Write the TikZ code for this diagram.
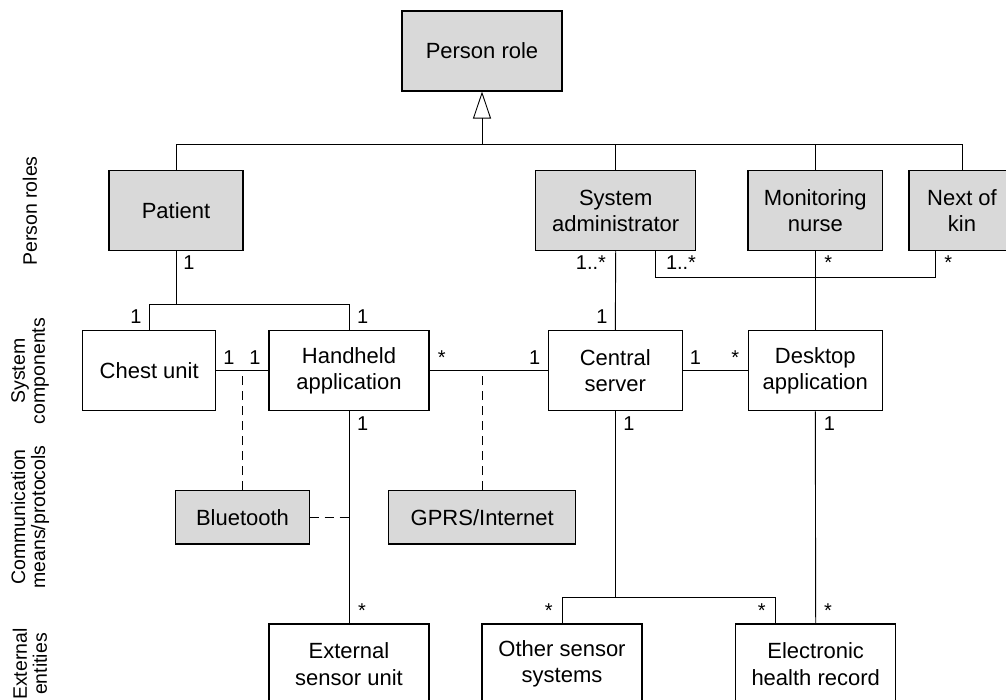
\documentclass[tikz,border=0pt]{standalone}
\usepackage{fontspec}
\setmainfont{Liberation Sans}
\usetikzlibrary{arrows.meta}

\tikzset{
  umlbox/.style={draw, line width=1.1pt, minimum width=134pt, minimum height=80pt,
                 inner sep=2pt, align=center, font=\fontsize{22}{26.5}\selectfont},
  rolebox/.style={umlbox, fill=gray!30},
  commbox/.style={rolebox, minimum height=53.3pt},
  wide/.style={minimum width=160pt},
  link/.style={line width=0.9pt},
  protolink/.style={link, dash pattern=on 9pt off 6pt},
  mult/.style={anchor=base, inner sep=0pt, font=\fontsize{20}{24}\selectfont},
  layer/.style={rotate=90, anchor=center, inner sep=0pt, align=center,
                font=\fontsize{19.5}{20}\selectfont},
}

\begin{document}
\begin{tikzpicture}[x=1pt, y=-1pt]
  \useasboundingbox (0,0) rectangle (1006,700);
  \fill[white] (0,0) rectangle (1006,700);
  \clip (0,0) rectangle (1006,700);

  % layer captions on the left
  \node[layer] (lroles) at (30,211) {Person roles};
  \node[layer] (lcomp)  at (30,371) {System\\components};
  \node[layer] (lcomm)  at (30,517) {Communication\\means/protocols};
  \node[layer] (lext)   at (30,664) {External\\entities};

  % person roles
  \node[rolebox, wide] (prole) at (482,51) {Person role};
  \node[rolebox] (patient) at (176,210.7) {Patient};
  \node[rolebox, wide] (sysadm) at (615.7,210.7) {System\\administrator};
  \node[rolebox, minimum width=134.7pt] (nurse) at (815.3,210.7) {Monitoring\\nurse};
  \node[rolebox, minimum width=106pt] (kin) at (962,210.7) {Next of\\kin};

  % system components
  \node[umlbox, minimum width=133pt] (chest) at (149.2,370.7) {Chest unit};
  \node[umlbox, wide] (handheld) at (349,370.7) {Handheld\\application};
  \node[umlbox] (central) at (615.3,370.7) {Central\\server};
  \node[umlbox] (desktop) at (815.3,370.7) {Desktop\\application};

  % communication means
  \node[commbox, minimum width=133.3pt] (bt) at (242.5,517.3) {Bluetooth};
  \node[commbox, minimum width=187pt] (gprs) at (482.2,517.3) {GPRS/Internet};

  % external entities
  \node[umlbox, wide] (ext) at (349,664) {External\\sensor unit};
  \node[umlbox, wide] (other) at (562,664) {Other sensor\\systems};
  \node[umlbox, wide] (ehr) at (815.7,664) {Electronic\\health record};

  % junction points
  \coordinate (gbar) at (482,144);
  \coordinate (pbar) at (176,304);
  \coordinate (sa2) at (655.7,250.7);
  \coordinate (kinb) at (935,250.7);
  \coordinate (abar) at (700,277);
  \coordinate (obar) at (615.3,597);
  \coordinate (ehr2) at (775.7,624);

  % generalisation
  \draw[link] (patient.north) |- (kin.north |- gbar) -- (kin.north);
  \draw[link] (sysadm.north) -- (sysadm.north |- gbar);
  \draw[link] (nurse.north) -- (nurse.north |- gbar);
  \draw[link, -{Triangle[open, length=27pt, width=18pt, line width=0.9pt]}] (gbar) -- (prole.south);

  % associations
  \draw[link] (patient.south) -- (pbar);
  \draw[link] (chest.north) |- (handheld.north |- pbar) -- (handheld.north);
  \draw[link] (chest.east) -- (handheld.west);
  \draw[link] (handheld.east) -- (central.west);
  \draw[link] (central.east) -- (desktop.west);
  \draw[link] (sysadm.south) -- (central.north);
  \draw[link] (sa2) |- (kinb |- abar) -- (kinb);
  \draw[link] (nurse.south) -- (desktop.north);
  \draw[link] (handheld.south) -- (ext.north);
  \draw[link] (central.south) -- (obar);
  \draw[link] (other.north) |- (ehr2 |- obar) -- (ehr2);
  \draw[link] (desktop.south) -- (ehr.north);

  % communication links
  \draw[protolink] (bt.north) -- (bt.north |- chest.east);
  \draw[protolink] (bt.east) -- (bt.east -| handheld.south);
  \draw[protolink] (gprs.north) -- (gprs.north |- central.west);

  % multiplicities
  \node[mult] (m1)  at (189,270) {1};
  \node[mult] (m2)  at (136,324) {1};
  \node[mult] (m3)  at (362.7,324) {1};
  \node[mult] (m4)  at (229,364) {1};
  \node[mult] (m5)  at (255,364) {1};
  \node[mult] (m6)  at (441.7,364) {*};
  \node[mult] (m7)  at (534.7,364) {1};
  \node[mult] (m8)  at (602,324) {1};
  \node[mult] (m9)  at (591,270) {1..*};
  \node[mult] (m10) at (681,270) {1..*};
  \node[mult] (m11) at (828.3,270) {*};
  \node[mult] (m12) at (948.3,270) {*};
  \node[mult] (m13) at (695.4,364) {1};
  \node[mult] (m14) at (735.2,364) {*};
  \node[mult] (m15) at (362.7,430) {1};
  \node[mult] (m16) at (628.9,430) {1};
  \node[mult] (m17) at (829.4,430) {1};
  \node[mult] (m18) at (362,617) {*};
  \node[mult] (m19) at (548.7,617) {*};
  \node[mult] (m20) at (761.7,617) {*};
  \node[mult] (m21) at (828,617) {*};
\end{tikzpicture}
\end{document}
